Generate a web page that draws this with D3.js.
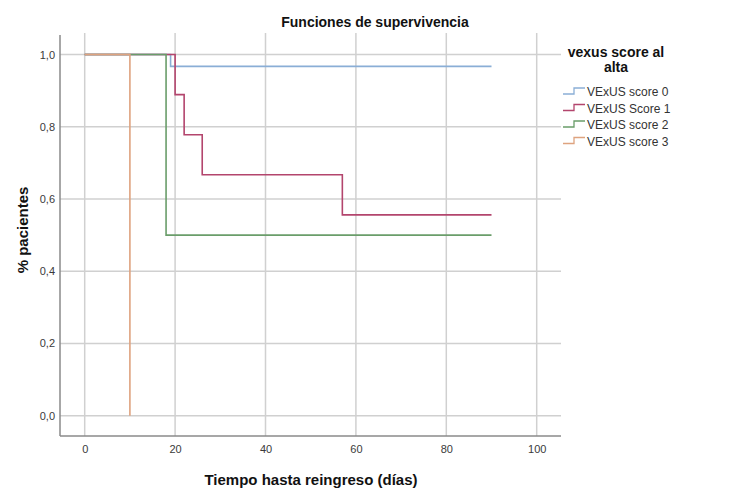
<!DOCTYPE html>
<html><head><meta charset="utf-8">
<script src="https://cdn.jsdelivr.net/npm/d3@7"></script>
<style>body{margin:0;background:#fff}svg{display:block;font-family:"Liberation Sans",Arial,sans-serif}</style>
</head><body><svg id="c" width="750" height="500"></svg>
<script>
const seriesNames = ["VExUS score 0","VExUS Score 1","VExUS score 2","VExUS score 3"];
const seriesColors = ["#8aaed6","#b3456d","#6a9d6a","#dea37f"];
const times0 = [0,19,90];           const surv0 = [1,0.967,0.967];
const times1 = [0,20,22,26,57,90];  const surv1 = [1,0.889,0.778,0.667,0.556,0.556];
const times2 = [0,18,90];           const surv2 = [1,0.5,0.5];
const times3 = [0,10];              const surv3 = [1,0];
const xTicks = [0,20,40,60,80,100];
const yTicks = [0,0.2,0.4,0.6,0.8,1.0];
const yTickLabels = ["0,0","0,2","0,4","0,6","0,8","1,0"];

const allTimes = [times0,times1,times2,times3];
const allSurv = [surv0,surv1,surv2,surv3];

const svg = d3.select("#c");
const pL=60,pR=561,pT=35,pB=436;
const x = d3.scaleLinear().domain([0,100]).range([84.7,536.7]);
const y = d3.scaleLinear().domain([0,1]).range([415.7,54.5]);

// gridlines
svg.append("g").selectAll("line").data(xTicks).join("line")
  .attr("x1",d=>x(d)).attr("x2",d=>x(d)).attr("y1",pT-2).attr("y2",pB)
  .attr("stroke","#d0d0d0").attr("stroke-width",1.5);
svg.append("g").selectAll("line").data(yTicks).join("line")
  .attr("y1",d=>y(d)).attr("y2",d=>y(d)).attr("x1",pL).attr("x2",pR)
  .attr("stroke","#d0d0d0").attr("stroke-width",1.5);

// axes lines
svg.append("line").attr("x1",pL).attr("x2",pL).attr("y1",pT).attr("y2",pB)
  .attr("stroke","#8a8a8a").attr("stroke-width",1.5);
svg.append("line").attr("x1",pL).attr("x2",pR).attr("y1",pB).attr("y2",pB)
  .attr("stroke","#8a8a8a").attr("stroke-width",1.5);

// tick labels via axes
const xAxis = d3.axisBottom(x).tickValues(xTicks).tickSize(0).tickFormat(d3.format("d"));
const gx = svg.append("g").attr("transform",`translate(0,${pB})`).call(xAxis);
gx.select(".domain").remove();
gx.selectAll("text").attr("dy","0").attr("y",17).attr("font-size",11).attr("fill","#3a3a3a").attr("font-family","Liberation Sans, Arial, sans-serif");
const yAxis = d3.axisLeft(y).tickValues(yTicks).tickSize(0).tickFormat((d,i)=>yTickLabels[i]);
const gy = svg.append("g").attr("transform",`translate(${pL},0)`).call(yAxis);
gy.select(".domain").remove();
gy.selectAll("text").attr("x",-5).attr("font-size",11).attr("fill","#3a3a3a").attr("font-family","Liberation Sans, Arial, sans-serif");

// curves
const line = d3.line().x(d=>x(d[0])).y(d=>y(d[1])).curve(d3.curveStepAfter);
allTimes.forEach((t,i)=>{
  const pts = t.map((tt,j)=>[tt,allSurv[i][j]]);
  svg.append("path").datum(pts).attr("d",line).attr("fill","none")
    .attr("stroke",seriesColors[i]).attr("stroke-width",1.6);
});

// titles
svg.append("text").attr("x",375).attr("y",27).attr("text-anchor","middle")
  .attr("font-size",14).attr("font-weight","bold").attr("fill","#111").text("Funciones de supervivencia");
svg.append("text").attr("x",311).attr("y",485).attr("text-anchor","middle")
  .attr("font-size",15).attr("font-weight","bold").attr("fill","#111").text("Tiempo hasta reingreso (días)");
svg.append("text").attr("transform","translate(28,230) rotate(-90)").attr("text-anchor","middle")
  .attr("font-size",15).attr("font-weight","bold").attr("fill","#111").text("% pacientes");

// legend
svg.append("text").attr("x",616).attr("y",57).attr("text-anchor","middle")
  .attr("font-size",14).attr("font-weight","bold").attr("fill","#111").text("vexus score al");
svg.append("text").attr("x",616).attr("y",72).attr("text-anchor","middle")
  .attr("font-size",14).attr("font-weight","bold").attr("fill","#111").text("alta");
const lg = svg.append("g").selectAll("g").data(seriesNames).join("g")
  .attr("transform",(d,i)=>`translate(0,${91.5+i*16.5})`);
lg.append("path").attr("d","M563,2.5H574V-3.5H585").attr("fill","none")
  .attr("stroke",(d,i)=>seriesColors[i]).attr("stroke-width",1.3);
lg.append("text").attr("x",587).attr("y",4.5).attr("font-size",12).attr("fill","#333").text(d=>d);
</script></body></html>
